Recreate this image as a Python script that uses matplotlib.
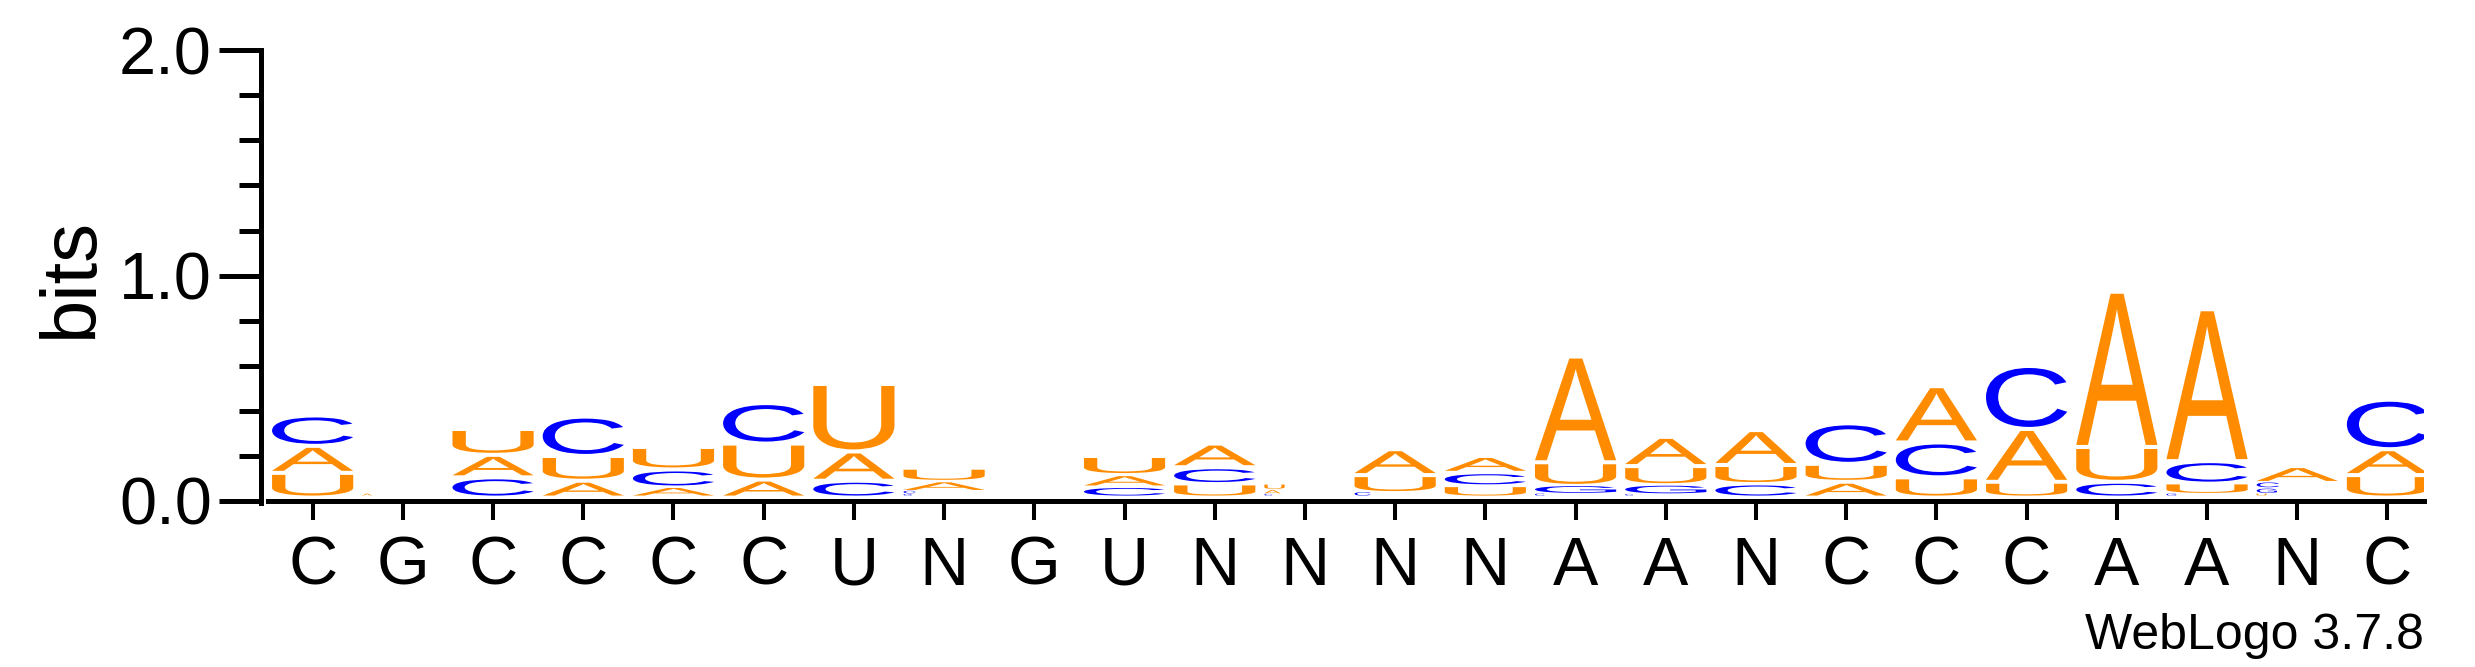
import matplotlib
matplotlib.use("Agg")
import matplotlib.pyplot as plt
from matplotlib.textpath import TextPath
from matplotlib.font_manager import FontProperties
from matplotlib.patches import PathPatch
from matplotlib.transforms import Affine2D
from matplotlib.ticker import MultipleLocator

plt.rcParams["font.family"] = ["Liberation Sans", "DejaVu Sans"]

# consensus labels under each column
labels = ["C", "G", "C", "C", "C", "C", "U", "N", "G", "U", "N", "N",
          "N", "N", "A", "A", "N", "C", "C", "C", "A", "A", "N", "C"]

# letter heights in bits, per column
bits_A = [0.12, 0.012, 0.10, 0.075, 0.045, 0.08, 0.13, 0.045, 0.0, 0.055, 0.105, 0.02,
          0.115, 0.075, 0.47, 0.13, 0.155, 0.07, 0.25, 0.235, 0.69, 0.675, 0.075, 0.115]
bits_C = [0.135, 0.0, 0.09, 0.175, 0.08, 0.18, 0.075, 0.015, 0.0, 0.045, 0.075, 0.01,
          0.02, 0.06, 0.012, 0.01, 0.06, 0.18, 0.155, 0.28, 0.07, 0.10, 0.028, 0.22]
bits_G = [0.0, 0.0, 0.0, 0.0, 0.0, 0.0, 0.0, 0.01, 0.0, 0.0, 0.0, 0.0,
          0.0, 0.0, 0.04, 0.045, 0.0, 0.0, 0.0, 0.0, 0.0, 0.012, 0.025, 0.0]
bits_U = [0.11, 0.0, 0.115, 0.11, 0.10, 0.16, 0.30, 0.06, 0.0, 0.085, 0.06, 0.025,
          0.08, 0.05, 0.105, 0.085, 0.085, 0.08, 0.09, 0.07, 0.155, 0.05, 0.012, 0.10]

colors = {"A": "#FF8C00", "U": "#FF8C00", "C": "#0000FF", "G": "#0000FF"}
font = FontProperties(family="Liberation Sans")

BASE = 0.022   # stacks sit a little above the axis line
COL_W = 0.9    # glyph width in column units


def draw_letter(ax, ch, x0, y0, w, h, color):
    tp = TextPath((0, 0), ch, size=1, prop=font)
    ext = tp.get_extents()
    tr = (Affine2D().translate(-ext.x0, -ext.y0)
          .scale(w / ext.width, h / ext.height).translate(x0, y0))
    ax.add_patch(PathPatch(tr.transform_path(tp), fc=color, ec="none", lw=0))


fig = plt.figure(figsize=(24.75, 6.67), dpi=100)
ax = fig.add_axes([0.1081, 0.2496, 0.8711, 0.6747])

for i in range(len(labels)):
    col = {"A": bits_A[i], "C": bits_C[i], "G": bits_G[i], "U": bits_U[i]}
    y = BASE
    for ch, h in sorted(col.items(), key=lambda kv: kv[1]):
        if h <= 0:
            continue
        gap = min(0.018, 0.25 * h)
        left = i - COL_W / 2
        w = COL_W
        if h < 0.03:
            # tiny glyphs come out squeezed to the left in the original
            w = COL_W * h / 0.1
        draw_letter(ax, ch, left, y, w, h - gap, colors[ch])
        y += h

ax.set_xlim(-0.5, 23.4)
ax.set_ylim(0, 2)

for s in ["top", "right"]:
    ax.spines[s].set_visible(False)
ax.spines["left"].set_position(("outward", 5))
ax.spines["left"].set_bounds(-0.012, 2)
ax.spines["left"].set_linewidth(3.6)
ax.spines["bottom"].set_linewidth(3.6)

ax.set_yticks([0, 1, 2])
ax.set_yticklabels(["0.0", "1.0", "2.0"])
ax.yaxis.set_minor_locator(MultipleLocator(0.2))
ax.tick_params(axis="y", which="major", length=30, width=3.6, labelsize=48, pad=5)
ax.tick_params(axis="y", which="minor", length=16, width=3.6)

ax.set_xticks(range(len(labels)))
ax.set_xticklabels(labels)
ax.tick_params(axis="x", length=13.7, width=2.9, labelsize=49, pad=11)

fig.text(71 / 2475, 1 - 278 / 667, "bits", rotation=90, ha="center", va="center", fontsize=56)
fig.text(2424 / 2475, 1 - 649 / 667, "WebLogo 3.7.8", ha="right", va="baseline", fontsize=36)

fig.savefig("out.png", dpi=100)
